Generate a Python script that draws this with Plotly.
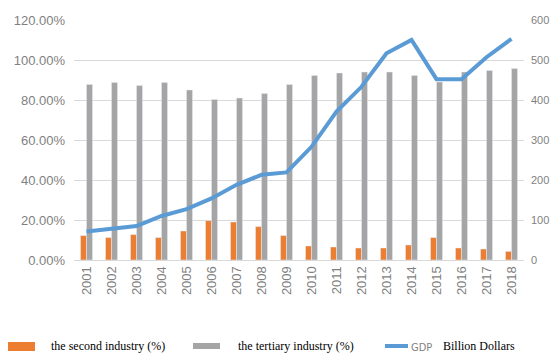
import plotly.graph_objects as go

years = [str(y) for y in range(2001, 2019)]
second_industry = [12.2, 11.2, 12.7, 11.2, 14.5, 19.7, 19.0, 16.7, 12.2, 7.0,
                   6.5, 6.0, 6.0, 7.5, 11.2, 6.0, 5.5, 4.3]
tertiary_industry = [87.8, 88.8, 87.2, 88.8, 85.0, 80.3, 81.0, 83.2, 87.7, 92.3,
                     93.5, 94.0, 94.0, 92.3, 89.0, 94.0, 94.7, 95.7]
gdp = [71, 77, 85, 110, 127, 154, 188, 213, 219, 283,
       371, 433, 517, 550, 452, 452, 507, 553]

left_ticks = [0, 20, 40, 60, 80, 100, 120]
left_labels = ["0.00%", "20.00%", "40.00%", "60.00%", "80.00%", "100.00%", "120.00%"]
right_ticks = [0, 100, 200, 300, 400, 500, 600]

ORANGE = "#ED7D31"
GRAY = "#A5A5A5"
BLUE = "#5B9BD5"
TXT = "#7F7F7F"

W, H = 551, 356
ML, MR, MT, MB = 74, 27, 20, 96
PW, PH = W - ML - MR, H - MT - MB


def px(x):
    return (x - ML) / PW


def py(y):
    return (H - MB - y) / PH


fig = go.Figure()
fig.add_trace(go.Bar(x=years, y=second_industry, name="the second industry (%)",
                     marker_color=ORANGE, yaxis="y"))
fig.add_trace(go.Bar(x=years, y=tertiary_industry, name="the tertiary industry (%)",
                     marker_color=GRAY, yaxis="y"))
fig.add_trace(go.Scatter(x=years, y=gdp, name="GDP Billion Dollars", mode="lines",
                         line=dict(color=BLUE, width=4), yaxis="y2"))

fig.update_layout(
    width=W, height=H,
    margin=dict(l=ML, r=MR, t=MT, b=MB, autoexpand=False),
    paper_bgcolor="white", plot_bgcolor="white",
    barmode="group", bargap=0.52, bargroupgap=0,
    showlegend=False,
    font=dict(family="Liberation Sans", size=13, color=TXT),
    xaxis=dict(type="category", tickangle=-90, showgrid=False, automargin=False,
               showline=True, linecolor="#D9D9D9", linewidth=1,
               ticks="", tickfont=dict(size=13, color=TXT)),
    yaxis=dict(range=[0, 120], tickvals=left_ticks, ticktext=left_labels,
               showgrid=True, gridcolor="#D9D9D9", gridwidth=1, automargin=False,
               zeroline=False, ticklabelstandoff=8,
               tickfont=dict(size=13, color=TXT)),
    yaxis2=dict(range=[0, 600], tickvals=right_ticks, tickformat="d",
                overlaying="y", side="right", showgrid=False, zeroline=False,
                automargin=False, ticklabelstandoff=6,
                tickfont=dict(size=11, color=TXT)),
)

# custom legend (swatches + text)
shapes = [
    dict(type="rect", xref="paper", yref="paper", x0=px(8), x1=px(35),
         y0=py(351), y1=py(342), fillcolor=ORANGE, line_width=0),
    dict(type="rect", xref="paper", yref="paper", x0=px(193), x1=px(220),
         y0=py(349), y1=py(343), fillcolor=GRAY, line_width=0),
    dict(type="line", xref="paper", yref="paper", x0=px(385), x1=px(408),
         y0=py(346), y1=py(346), line=dict(color=BLUE, width=4)),
]
serif = dict(family="Liberation Serif", size=12, color="#000000")
annotations = [
    dict(text="the second industry (%)", x=px(49), y=py(346), xref="paper", yref="paper",
         xanchor="left", yanchor="middle", showarrow=False, font=serif),
    dict(text="the tertiary industry (%)", x=px(236), y=py(346), xref="paper", yref="paper",
         xanchor="left", yanchor="middle", showarrow=False, font=serif),
    dict(text="GDP", x=px(409), y=py(347), xref="paper", yref="paper",
         xanchor="left", yanchor="middle", showarrow=False,
         font=dict(family="DejaVu Sans Condensed", size=11, color="#7F7F7F")),
    dict(text="Billion Dollars", x=px(441), y=py(346), xref="paper", yref="paper",
         xanchor="left", yanchor="middle", showarrow=False, font=serif),
]
fig.update_layout(shapes=shapes, annotations=annotations)

fig.write_html("out.html")
